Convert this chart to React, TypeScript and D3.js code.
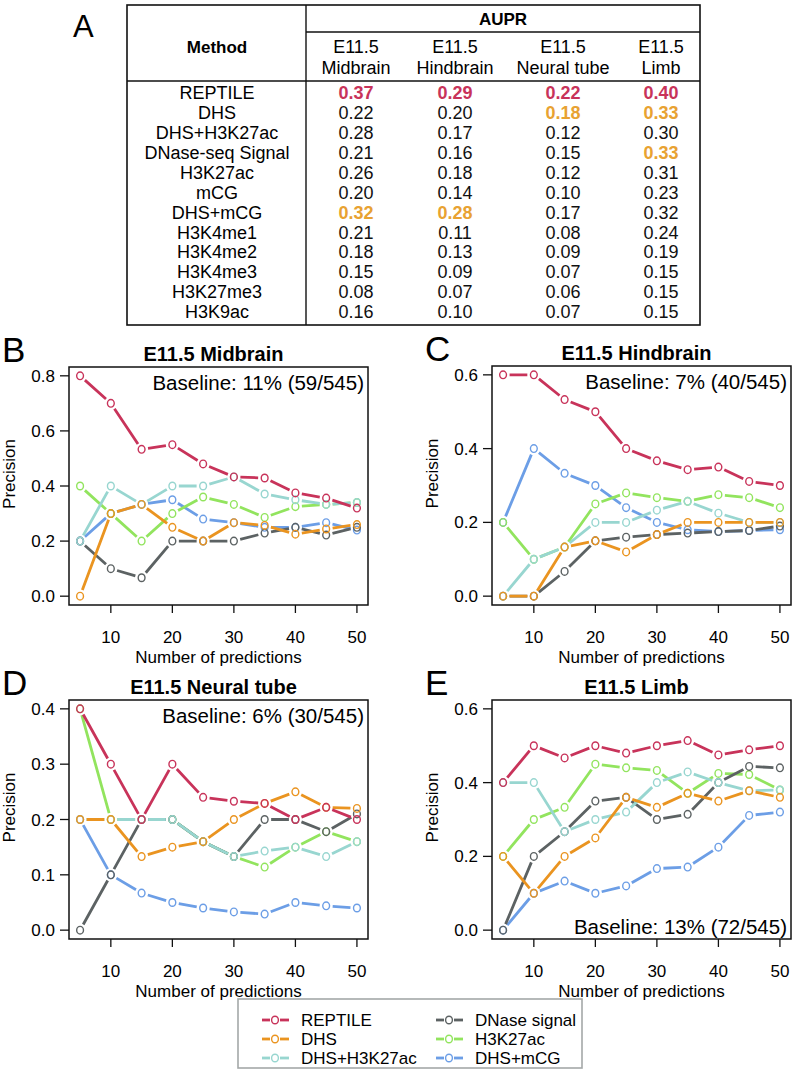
import React from 'react';
import * as d3 from 'd3';

// table (panel A)
const methods = ["REPTILE", "DHS", "DHS+H3K27ac", "DNase-seq Signal", "H3K27ac", "mCG", "DHS+mCG",
  "H3K4me1", "H3K4me2", "H3K4me3", "H3K27me3", "H3K9ac"];
const tissues = ["Midbrain", "Hindbrain", "Neural tube", "Limb"];
const auprMidbrain = [0.37, 0.22, 0.28, 0.21, 0.26, 0.20, 0.32, 0.21, 0.18, 0.15, 0.08, 0.16];
const auprHindbrain = [0.29, 0.20, 0.17, 0.16, 0.18, 0.14, 0.28, 0.11, 0.13, 0.09, 0.07, 0.10];
const auprNeural = [0.22, 0.18, 0.12, 0.15, 0.12, 0.10, 0.17, 0.08, 0.09, 0.07, 0.06, 0.07];
const auprLimb = [0.40, 0.33, 0.30, 0.33, 0.31, 0.23, 0.32, 0.24, 0.19, 0.15, 0.15, 0.15];
// 1 = best (red), 2 = runner up (orange)
const rankMidbrain = [1, 0, 0, 0, 0, 0, 2, 0, 0, 0, 0, 0];
const rankHindbrain = [1, 0, 0, 0, 0, 0, 2, 0, 0, 0, 0, 0];
const rankNeural = [1, 2, 0, 0, 0, 0, 0, 0, 0, 0, 0, 0];
const rankLimb = [1, 2, 0, 2, 0, 0, 0, 0, 0, 0, 0, 0];

// precision curves
const xs = [5, 10, 15, 20, 25, 30, 35, 40, 45, 50];
const seriesNames = ["REPTILE", "DHS", "DHS+H3K27ac", "DNase signal", "H3K27ac", "DHS+mCG"];

// order: REPTILE, DHS, DHS+H3K27ac, DNase, H3K27ac, DHS+mCG
const midbrain = [
  [0.8, 0.7, 0.533, 0.55, 0.48, 0.433, 0.429, 0.375, 0.356, 0.32],
  [0.0, 0.3, 0.333, 0.25, 0.2, 0.267, 0.257, 0.225, 0.244, 0.26],
  [0.2, 0.4, 0.333, 0.4, 0.4, 0.433, 0.371, 0.35, 0.333, 0.34],
  [0.2, 0.1, 0.067, 0.2, 0.2, 0.2, 0.229, 0.25, 0.222, 0.25],
  [0.4, 0.3, 0.2, 0.3, 0.36, 0.333, 0.286, 0.325, 0.333, 0.34],
  [0.2, 0.3, 0.333, 0.35, 0.28, 0.267, 0.25, 0.25, 0.267, 0.24],
];
const hindbrain = [
  [0.6, 0.6, 0.533, 0.5, 0.4, 0.367, 0.343, 0.35, 0.311, 0.3],
  [0.0, 0.0, 0.133, 0.15, 0.12, 0.167, 0.2, 0.2, 0.2, 0.2],
  [0.0, 0.1, 0.133, 0.2, 0.2, 0.233, 0.257, 0.225, 0.2, 0.2],
  [0.0, 0.0, 0.067, 0.15, 0.16, 0.167, 0.171, 0.175, 0.178, 0.19],
  [0.2, 0.1, 0.133, 0.25, 0.28, 0.267, 0.257, 0.275, 0.267, 0.24],
  [0.2, 0.4, 0.333, 0.3, 0.24, 0.2, 0.18, 0.175, 0.178, 0.18],
];
const neuralTube = [
  [0.4, 0.3, 0.2, 0.3, 0.24, 0.233, 0.229, 0.2, 0.222, 0.2],
  [0.2, 0.2, 0.133, 0.15, 0.16, 0.2, 0.229, 0.25, 0.222, 0.22],
  [0.2, 0.2, 0.2, 0.2, 0.16, 0.133, 0.143, 0.15, 0.133, 0.16],
  [0.0, 0.1, 0.2, 0.2, 0.16, 0.133, 0.2, 0.2, 0.178, 0.21],
  [0.4, 0.2, 0.2, 0.2, 0.16, 0.133, 0.114, 0.15, 0.178, 0.16],
  [0.2, 0.1, 0.067, 0.05, 0.04, 0.033, 0.029, 0.05, 0.044, 0.04],
];
const limb = [
  [0.4, 0.5, 0.467, 0.5, 0.48, 0.5, 0.514, 0.475, 0.489, 0.5],
  [0.2, 0.1, 0.2, 0.25, 0.36, 0.333, 0.371, 0.35, 0.378, 0.36],
  [0.4, 0.4, 0.267, 0.3, 0.32, 0.4, 0.429, 0.4, 0.378, 0.38],
  [0.0, 0.2, 0.267, 0.35, 0.36, 0.3, 0.314, 0.4, 0.444, 0.44],
  [0.2, 0.3, 0.333, 0.45, 0.44, 0.433, 0.371, 0.425, 0.422, 0.38],
  [0.0, 0.1, 0.133, 0.1, 0.12, 0.167, 0.171, 0.225, 0.311, 0.32],
];

const colors = ["#c8335a", "#ea9420", "#98d6d0", "#5c6263", "#92e45e", "#6c9ee6"];
const font = "'Liberation Sans', Arial, sans-serif";
const RED = "#c8335a";
const GOLD = "#e8a232";

const panels = [
  { letter: "B", title: "E11.5 Midbrain", data: midbrain, ymax: 0.8, nt: 5, baseline: "Baseline: 11% (59/545)", top: true,
    left: 69, right: 368, y0: 367, y1: 605 },
  { letter: "C", title: "E11.5 Hindbrain", data: hindbrain, ymax: 0.6, nt: 3, baseline: "Baseline: 7% (40/545)", top: true,
    left: 492, right: 791, y0: 366, y1: 605 },
  { letter: "D", title: "E11.5 Neural tube", data: neuralTube, ymax: 0.4, nt: 4, baseline: "Baseline: 6% (30/545)", top: true,
    left: 69, right: 368, y0: 700, y1: 939 },
  { letter: "E", title: "E11.5 Limb", data: limb, ymax: 0.6, nt: 3, baseline: "Baseline: 13% (72/545)", top: false,
    left: 492, right: 791, y0: 700, y1: 939 },
];

function gapSegments(pts: [number, number][], gap: number) {
  const segs: string[] = [];
  for (let i = 0; i < pts.length - 1; i++) {
    const [ax, ay] = pts[i], [bx, by] = pts[i + 1];
    const dx = bx - ax, dy = by - ay;
    const len = Math.hypot(dx, dy);
    if (len <= gap * 2) continue;
    const ux = dx / len, uy = dy / len;
    segs.push(`M${ax + ux * gap},${ay + uy * gap}L${bx - ux * gap},${by - uy * gap}`);
  }
  return segs.join("");
}

function Panel({ p }: { p: typeof panels[number] }) {
  const pad = 0.04;
  const x = d3.scaleLinear().domain([5 - 45 * pad, 50 + 45 * pad]).range([p.left, p.right]);
  const y = d3.scaleLinear().domain([-p.ymax * pad, p.ymax * (1 + pad)]).range([p.y1, p.y0]);
  const yTicks = d3.ticks(0, p.ymax, p.nt);
  const xTicks = [10, 20, 30, 40, 50];
  const cx = (p.left + p.right) / 2;
  const cy = (p.y0 + p.y1) / 2 - 12;
  const order = [5, 4, 3, 2, 1, 0];
  return (
    <g>
      <text x={p.left - 67} y={p.y0 - 5} fontSize={35} fontFamily={font}>{p.letter}</text>
      <text x={cx - 5} y={p.y0 - 6} fontSize={20} fontWeight="bold" textAnchor="middle" fontFamily={font}>{p.title}</text>
      {order.map(i => {
        const pts = xs.map((xv, j) => [x(xv), y(p.data[i][j])] as [number, number]);
        return (
          <g key={i}>
            <path d={gapSegments(pts, 6.5)} stroke={colors[i]} strokeWidth={2.8} fill="none" />
            {pts.map(([px, py], j) => (
              <ellipse key={j} cx={px} cy={py} rx={3.4} ry={3.8} fill="none" stroke={colors[i]} strokeWidth={1.4} />
            ))}
          </g>
        );
      })}
      <rect x={p.left} y={p.y0} width={p.right - p.left} height={p.y1 - p.y0} fill="none" stroke="#111" strokeWidth={1.5} />
      {yTicks.map(t => (
        <g key={t}>
          <line x1={p.left - 9} x2={p.left} y1={y(t)} y2={y(t)} stroke="#111" strokeWidth={1.3} />
          <text x={p.left - 14} y={y(t) + 6} fontSize={17} textAnchor="end" fontFamily={font}>{d3.format(".1f")(t)}</text>
        </g>
      ))}
      {xTicks.map(t => (
        <g key={t}>
          <line x1={x(t)} x2={x(t)} y1={p.y1} y2={p.y1 + 8} stroke="#111" strokeWidth={1.3} />
          <text x={x(t)} y={p.y1 + 38} fontSize={17} textAnchor="middle" fontFamily={font}>{t}</text>
        </g>
      ))}
      <text x={cx} y={p.y1 + 58} fontSize={17} textAnchor="middle" fontFamily={font}>Number of predictions</text>
      <text transform={`translate(${p.left - 54},${cy}) rotate(-90)`} fontSize={17} textAnchor="middle" fontFamily={font}>Precision</text>
      <text x={p.right - 4} y={p.top ? p.y0 + 23 : p.y1 - 5} fontSize={20.5} textAnchor="end" fontFamily={font}>{p.baseline}</text>
    </g>
  );
}

function Table() {
  const left = 127, mid = 306, right = 700, top = 5, hLine = 32, hBottom = 81, bottom = 325;
  const rowY = d3.scaleLinear().domain([0, methods.length - 1]).range([92.7, 311.7]);
  const colX = [356, 455, 563, 661];
  const cols = [auprMidbrain, auprHindbrain, auprNeural, auprLimb];
  const ranks = [rankMidbrain, rankHindbrain, rankNeural, rankLimb];
  return (
    <g fontFamily={font}>
      <text x={73} y={37} fontSize={31}>A</text>
      <rect x={left} y={top} width={right - left} height={bottom - top} fill="none" stroke="#111" strokeWidth={1.6} />
      <line x1={mid} x2={mid} y1={top} y2={bottom} stroke="#111" strokeWidth={1.4} />
      <line x1={mid} x2={right} y1={hLine} y2={hLine} stroke="#111" strokeWidth={1.4} />
      <line x1={left} x2={right} y1={hBottom} y2={hBottom} stroke="#111" strokeWidth={1.4} />
      <text x={503} y={25} fontSize={17} fontWeight="bold" textAnchor="middle">AUPR</text>
      <text x={217} y={53} fontSize={17} fontWeight="bold" textAnchor="middle">Method</text>
      {tissues.map((t, i) => (
        <g key={t}>
          <text x={colX[i]} y={53} fontSize={18} textAnchor="middle">E11.5</text>
          <text x={colX[i]} y={74} fontSize={18} textAnchor="middle">{t}</text>
        </g>
      ))}
      {methods.map((m, r) => (
        <g key={m}>
          <text x={217} y={rowY(r) + 6.5} fontSize={18} textAnchor="middle">{m}</text>
          {cols.map((c, i) => {
            const rk = ranks[i][r];
            return (
              <text key={i} x={colX[i]} y={rowY(r) + 6.5} fontSize={18} textAnchor="middle"
                fontWeight={rk ? "bold" : "normal"} fill={rk === 1 ? RED : rk === 2 ? GOLD : "#111"}>
                {c[r].toFixed(2)}
              </text>
            );
          })}
        </g>
      ))}
    </g>
  );
}

function Legend() {
  const rowsY = [1020, 1039, 1058];
  const colSym = [275, 449];
  return (
    <g fontFamily={font}>
      <rect x={238} y={999} width={344} height={69} fill="none" stroke="#a4a8a8" strokeWidth={1.6} />
      {seriesNames.map((n, i) => {
        const c = Math.floor(i / 3), r = i % 3;
        const sx = colSym[c], sy = rowsY[r];
        return (
          <g key={n}>
            <line x1={sx - 13} x2={sx - 5} y1={sy} y2={sy} stroke={colors[i]} strokeWidth={2.8} />
            <line x1={sx + 5} x2={sx + 14} y1={sy} y2={sy} stroke={colors[i]} strokeWidth={2.8} />
            <ellipse cx={sx} cy={sy} rx={3.4} ry={3.8} fill="none" stroke={colors[i]} strokeWidth={1.4} />
            <text x={sx + 26} y={sy + 6} fontSize={17}>{n}</text>
          </g>
        );
      })}
    </g>
  );
}

export default function App() {
  return (
    <div style={{ position: 'absolute', left: 0, top: 0 }}>
      <svg width={793} height={1073} style={{ display: 'block', background: 'white' }}>
        <Table />
        {panels.map(p => <Panel key={p.letter} p={p} />)}
        <Legend />
      </svg>
    </div>
  );
}
